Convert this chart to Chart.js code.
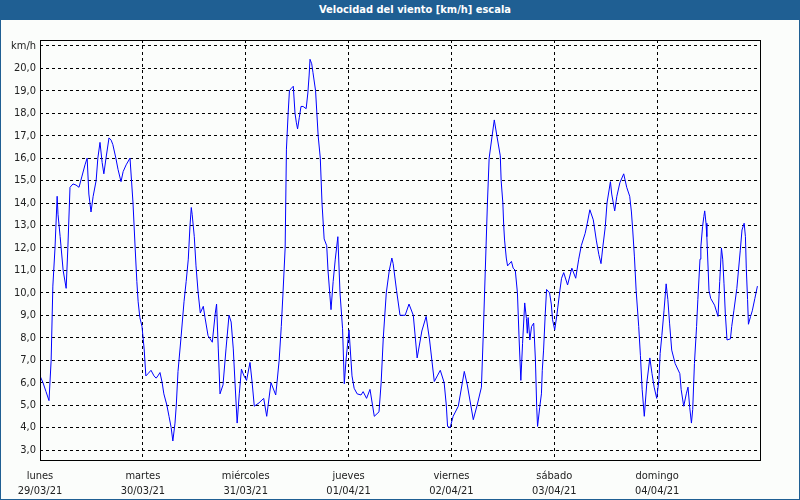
<!DOCTYPE html>
<html>
<head>
<meta charset="utf-8">
<script src="https://cdn.jsdelivr.net/npm/chart.js@4/dist/chart.umd.min.js"></script>
<style>
	body { margin: 0; background: #fbfdfb; }
	#wrap { position: relative; width: 800px; height: 500px; }
	#titulo {
		position: absolute; left: 0; top: 0; width: 800px; height: 20px;
		background: #1f5f93; color: #fff; box-sizing: border-box; padding-left: 30px;
		font: bold 11px 'DejaVu Sans Condensed', 'DejaVu Sans', sans-serif;
		line-height: 20px; text-align: center;
	}
	#marco {
		position: absolute; left: 0; top: 0; width: 800px; height: 500px;
		box-sizing: border-box; border: 1px solid #1f5f93; pointer-events: none;
	}
	canvas { position: absolute; left: 0; top: 0; }
</style>
</head>
<body>
<div id="wrap">
	<canvas id="viento" width="800" height="500"></canvas>
	<div id="titulo">Velocidad del viento [km/h] escala</div>
	<div id="marco"></div>
</div>
<script>
// horas desde lunes 29/03/21 00:00
var horas = [0, 0.7, 1.4, 2.1, 2.6, 3.0, 3.5, 4.0, 4.2, 4.7, 5.4, 6.1, 6.5, 7.0, 7.7, 8.4, 9.1, 9.8, 10.5, 11.0,
	11.4, 11.9, 12.4, 13.1, 13.5, 14.0, 14.5, 14.9, 15.4, 16.1, 16.6, 17.0, 17.7, 18.2, 18.9, 19.4, 20.1, 21.0, 21.7, 22.2,
	22.6, 22.9, 23.3, 23.8, 24.3, 24.7, 25.2, 25.9, 26.6, 27.1, 27.5, 28.0, 28.5, 28.9, 29.6, 30.1, 30.6, 31.0, 31.5, 31.8,
	32.2, 32.9, 33.6, 34.1, 34.6, 35.0, 35.3, 35.5, 36.0, 36.4, 36.9, 37.4, 38.1, 38.5, 39.2, 40.2, 40.9, 41.2, 41.6, 42.0,
	42.7, 43.4, 44.1, 44.6, 45.1, 45.5, 46.0, 46.5, 47.0, 47.6, 48.2, 49.0, 49.5, 50.0, 51.1, 52.2, 52.9, 53.9, 55.0, 55.3,
	55.8, 56.3, 56.7, 57.2, 57.5, 57.9, 58.2, 58.6, 59.1, 59.5, 59.8, 60.1, 60.5, 60.9, 61.4, 62.1, 62.5, 62.8, 63.0, 63.4,
	63.7, 64.3, 64.6, 64.9, 65.4, 65.8, 66.3, 66.9, 67.2, 67.9, 68.4, 68.9, 69.5, 70.0, 70.6, 71.0, 71.4, 72.1, 72.8, 73.3,
	74.0, 74.9, 75.4, 76.2, 77.0, 78.0, 79.1, 79.6, 80.1, 80.8, 81.5, 82.1, 82.4, 83.2, 84.0, 85.2, 86.1, 87.1, 88.0, 89.1,
	90.1, 90.9, 92.0, 92.7, 93.4, 94.3, 94.8, 95.1, 95.7, 96.4, 97.6, 99.0, 99.7, 101.1, 102.0, 103.0, 103.4, 103.9, 104.4, 104.8,
	105.5, 106.0, 106.6, 107.4, 107.6, 108.0, 108.2, 108.4, 108.8, 109.1, 110.0, 110.4, 110.9, 111.4, 111.8, 112.2, 112.6, 113.1, 113.5, 113.7,
	113.9, 114.3, 114.7, 115.2, 115.6, 115.9, 116.1, 116.6, 117.0, 117.2, 117.5, 117.9, 118.2, 118.9, 119.3, 119.6, 120.1, 120.6, 121.3, 121.7,
	122.2, 123.1, 124.1, 125.0, 125.7, 126.3, 127.2, 127.7, 128.3, 129.1, 129.8, 130.4, 130.9, 131.3, 131.9, 132.3, 133.1, 133.4, 134.1, 134.6,
	135.3, 136.2, 136.9, 137.6, 138.0, 138.3, 138.7, 139.1, 139.7, 140.1, 140.5, 141.0, 141.6, 142.3, 142.8, 143.3, 143.9, 144.4, 144.7, 145.1,
	145.6, 146.1, 146.5, 146.9, 147.4, 148.2, 149.3, 149.6, 150.2, 150.8, 151.2, 151.6, 152.0, 152.3, 152.7, 153.2, 153.5, 154.0, 154.2, 154.6,
	154.9, 155.1, 155.4, 155.6, 156.1, 156.5, 157.4, 158.2, 158.6, 159.0, 159.3, 159.6, 159.9, 160.3, 161.1, 161.4, 161.9, 162.6, 163.4, 163.8,
	164.3, 164.6, 164.8, 165.1, 165.3, 165.8, 166.2, 166.8, 167.4];

// velocidad km/h
var velocidad = [6.3, 6.0, 5.6, 5.2, 7.0, 10.3, 12.0, 14.3, 13.5, 12.5, 11.0, 10.2, 12.0, 14.7, 14.85, 14.8, 14.7, 15.2, 15.7, 16.0,
	14.4, 13.6, 14.3, 15.0, 16.0, 16.7, 15.8, 15.3, 16.0, 16.9, 16.8, 16.6, 16.0, 15.5, 14.95, 15.4, 15.7, 16.0, 14.0, 12.0,
	10.5, 9.6, 8.9, 8.5, 7.5, 6.3, 6.4, 6.55, 6.3, 6.2, 6.3, 6.45, 6.0, 5.5, 5.0, 4.5, 4.0, 3.4, 4.2, 5.0,
	6.5, 8.0, 9.6, 10.5, 11.5, 13.0, 13.8, 13.5, 12.5, 11.2, 10.0, 9.1, 9.4, 8.9, 8.1, 7.8, 9.1, 9.5, 7.5, 5.5,
	5.9, 7.5, 9.0, 8.7, 7.5, 6.0, 4.2, 5.5, 6.6, 6.3, 6.1, 6.9, 6.0, 4.95, 5.1, 5.3, 4.5, 6.0, 5.45, 6.0,
	7.0, 8.5, 10.0, 12.0, 16.4, 18.0, 19.0, 19.1, 19.2, 18.0, 17.6, 17.3, 17.8, 18.3, 18.3, 18.2, 18.9, 19.7, 20.4, 20.2,
	19.8, 19.0, 18.0, 17.0, 16.0, 14.0, 12.4, 12.1, 11.0, 9.25, 10.5, 11.5, 12.5, 10.0, 8.4, 5.95, 7.0, 8.35, 6.3, 5.75,
	5.5, 5.45, 5.6, 5.3, 5.7, 4.5, 4.7, 6.0, 8.0, 10.0, 11.0, 11.55, 11.3, 10.1, 9.0, 9.0, 9.5, 9.0, 7.1, 8.3,
	8.95, 7.9, 6.05, 6.3, 6.55, 6.0, 5.0, 4.05, 4.0, 4.5, 4.95, 6.5, 5.9, 4.35, 5.0, 5.8, 8.0, 11.0, 14.0, 16.0,
	17.0, 17.7, 17.0, 16.1, 15.0, 14.0, 13.0, 12.35, 11.55, 11.2, 11.4, 11.1, 11.0, 10.0, 7.9, 6.1, 7.75, 9.55, 8.85, 8.2,
	8.9, 7.9, 8.5, 8.65, 7.0, 4.9, 4.05, 4.9, 5.5, 6.55, 7.45, 9.1, 10.15, 10.0, 9.5, 8.8, 8.35, 9.0, 10.1, 10.65,
	10.9, 10.35, 11.1, 10.65, 11.5, 12.1, 12.65, 13.1, 13.7, 13.25, 12.35, 11.7, 11.3, 12.0, 12.95, 14.0, 14.95, 14.4, 13.65, 14.3,
	14.9, 15.3, 14.7, 14.3, 13.6, 12.8, 11.6, 10.1, 8.5, 7.2, 5.7, 4.5, 6.0, 7.1, 6.4, 5.8, 5.3, 6.1, 7.3, 8.1,
	9.2, 10.4, 9.7, 8.65, 7.45, 6.85, 6.4, 5.7, 4.95, 5.5, 5.8, 4.9, 4.2, 4.8, 6.85, 8.5, 9.7, 11.5, 12.05, 12.95,
	13.4, 13.65, 13.1, 12.5, 10.1, 9.75, 9.45, 8.95, 10.5, 12.0, 11.5, 10.4, 9.1, 7.9, 7.95, 8.5, 9.2, 10.2, 11.9, 12.8,
	13.1, 12.5, 11.1, 9.7, 8.6, 8.95, 9.2, 9.75, 10.3];

var diasTicks = [0, 24, 48, 72, 96, 120, 144];
var diasNombres = ['lunes', 'martes', 'miércoles', 'jueves', 'viernes', 'sábado', 'domingo'];
var diasFechas = ['29/03/21', '30/03/21', '31/03/21', '01/04/21', '02/04/21', '03/04/21', '04/04/21'];
var escalaTicks = [3, 4, 5, 6, 7, 8, 9, 10, 11, 12, 13, 14, 15, 16, 17, 18, 19, 20, 21];

var fuente = "'DejaVu Sans Condensed', 'Liberation Sans', sans-serif";

var puntos = horas.map(function(h, i) {
	return { x: h, y: velocidad[i] };
});

// marco negro del area de trazado
var marcoPlot = {
	id: 'marcoPlot',
	afterDraw: function(chart) {
		var a = chart.chartArea;
		var ctx = chart.ctx;
		ctx.save();
		ctx.strokeStyle = '#000';
		ctx.lineWidth = 1;
		ctx.strokeRect(a.left + 0.5, a.top + 0.5, a.right - a.left, a.bottom - a.top);
		ctx.restore();
	}
};

new Chart(document.getElementById('viento').getContext('2d'), {
	type: 'line',
	data: {
		datasets: [{
			data: puntos,
			borderColor: '#0000ff',
			borderWidth: 1,
			pointRadius: 0,
			tension: 0,
			fill: false
		}]
	},
	options: {
		responsive: false,
		animation: false,
		layout: { padding: { left: 0, right: 40, top: 40, bottom: 0 } },
		plugins: { legend: { display: false }, tooltip: { enabled: false } },
		scales: {
			x: {
				type: 'linear',
				min: 0,
				max: 168,
				afterFit: function(s) { s.height = 40; },
				afterBuildTicks: function(s) {
					s.ticks = diasTicks.map(function(v) { return { value: v }; });
				},
				grid: { color: '#000', lineWidth: 1, drawTicks: false },
				border: { display: false, dash: [3, 3] },
				ticks: {
					autoSkip: false,
					maxRotation: 0,
					padding: 9,
					color: '#222',
					font: { family: fuente, size: 11, lineHeight: 1.36 },
					callback: function(v) {
						var i = diasTicks.indexOf(v);
						return i < 0 ? '' : [diasNombres[i], diasFechas[i]];
					}
				}
			},
			y: {
				min: 2.555,
				max: 21.26,
				afterFit: function(s) { s.width = 40; },
				afterBuildTicks: function(s) {
					s.ticks = escalaTicks.map(function(v) { return { value: v }; });
				},
				grid: { color: '#000', lineWidth: 1, drawTicks: false },
				border: { display: false, dash: [3, 3] },
				ticks: {
					padding: 4,
					color: '#222',
					font: { family: fuente, size: 11 },
					callback: function(v) {
						return v === 21 ? 'km/h' : v.toFixed(1).replace('.', ',');
					}
				}
			}
		}
	},
	plugins: [marcoPlot]
});
</script>
</body>
</html>
